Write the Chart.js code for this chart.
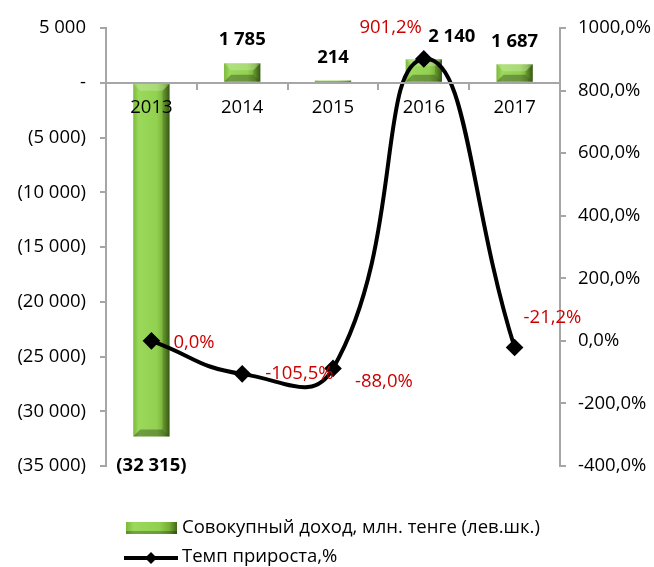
<!DOCTYPE html>
<html>
<head>
<meta charset="utf-8">
<script src="https://cdn.jsdelivr.net/npm/chart.js@4.4.1/dist/chart.umd.min.js"></script>
<style>
  html, body { margin: 0; padding: 0; background: #fff; }
  #wrap { width: 654px; height: 567px; }
</style>
</head>
<body>
<div id="wrap"><canvas id="chart" width="654" height="567"></canvas></div>
<script>
// data
const years = ['2013', '2014', '2015', '2016', '2017'];
const income = [-32315, 1785, 214, 2140, 1687];
const growth = [0.0, -105.5, -88.0, 901.2, -21.2];
const incomeLabel = 'Совокупный доход, млн. тенге (лев.шк.)';
const growthLabel = 'Темп прироста,%';

// label placement (style only)
const barLabelShift = [0, 0, 0, 28, 0];
const lineLabelOffsets = [[22, 2, 'left'], [23, 0, 'left'], [22, 13, 'left'], [-2, -31, 'right'], [9, -30, 'left']];

const FONT = '"Open Sans", Lato, sans-serif';
const FS = 18.5;
const axisGrey = '#A6A6A6';
const labelRed = '#CC0000';

function fmtIncome(v) {
  if (v === 0) return '-';
  const s = String(Math.abs(v)).replace(/\B(?=(\d{3})+(?!\d))/g, ' ');
  return v < 0 ? '(' + s + ')' : s;
}

function fmtPct(v) {
  return v.toFixed(1).replace('.', ',') + '%';
}

function greenGradient(ctx, x0, x1) {
  const g = ctx.createLinearGradient(x0, 0, x1, 0);
  g.addColorStop(0, '#7DB83C');
  g.addColorStop(0.15, '#9AD95A');
  g.addColorStop(0.65, '#92D050');
  g.addColorStop(0.85, '#76AE36');
  g.addColorStop(1, '#3F6B16');
  return g;
}

function barFill(context) {
  const chart = context.chart;
  const area = chart.chartArea;
  if (!area || context.dataIndex === undefined) return '#92D050';
  const x = chart.scales.x.getPixelForValue(context.dataIndex);
  const half = (area.right - area.left) / years.length * 0.4 / 2;
  return greenGradient(chart.ctx, x - half, x + half);
}

// bevel look on the bars
const barBevel = {
  id: 'barBevel',
  afterDatasetDraw(chart, args) {
    if (args.index !== 0) return;
    const ctx = chart.ctx;
    ctx.save();
    args.meta.data.forEach(bar => {
      const p = bar.getProps(['x', 'y', 'base', 'width'], true);
      const l = p.x - p.width / 2, r = p.x + p.width / 2;
      const t = Math.min(p.y, p.base), b = Math.max(p.y, p.base);
      const bv = Math.min(7, (b - t) / 2, p.width / 2);
      const poly = (pts, color) => {
        ctx.beginPath();
        ctx.moveTo(pts[0][0], pts[0][1]);
        pts.slice(1).forEach(q => ctx.lineTo(q[0], q[1]));
        ctx.closePath();
        ctx.fillStyle = color;
        ctx.fill();
      };
      poly([[l, t], [r, t], [r - bv, t + bv], [l + bv, t + bv]], 'rgba(255,255,255,0.22)');
      poly([[l, b], [r, b], [r - bv, b - bv], [l + bv, b - bv]], 'rgba(0,0,0,0.28)');
      poly([[r, t], [r, b], [r - bv, b - bv], [r - bv, t + bv]], 'rgba(0,0,0,0.18)');
    });
    ctx.restore();
  }
};

const valueLabels = {
  id: 'valueLabels',
  afterDatasetsDraw(chart) {
    const ctx = chart.ctx;
    ctx.save();
    ctx.textBaseline = 'middle';
    chart.getDatasetMeta(0).data.forEach((bar, i) => {
      const v = income[i];
      ctx.font = 'bold ' + FS + 'px ' + FONT;
      ctx.fillStyle = '#000';
      ctx.textAlign = 'center';
      const y = v >= 0 ? bar.y - 23 : bar.y + 29;
      ctx.fillText(fmtIncome(v), bar.x + barLabelShift[i], y);
    });
    chart.getDatasetMeta(1).data.forEach((pt, i) => {
      const o = lineLabelOffsets[i];
      ctx.font = FS + 'px ' + FONT;
      ctx.fillStyle = labelRed;
      ctx.textAlign = o[2];
      ctx.fillText(fmtPct(growth[i]), pt.x + o[0], pt.y + o[1]);
    });
    ctx.restore();
  }
};

const bottomLegend = {
  id: 'bottomLegend',
  afterDraw(chart) {
    const ctx = chart.ctx;
    ctx.save();
    ctx.fillStyle = greenGradient(ctx, 126, 177);
    ctx.fillRect(126, 522, 51, 12);
    ctx.fillStyle = 'rgba(0,0,0,0.25)';
    ctx.fillRect(126, 531, 51, 3);
    ctx.strokeStyle = '#000';
    ctx.lineWidth = 4;
    ctx.beginPath();
    ctx.moveTo(124, 558);
    ctx.lineTo(178, 558);
    ctx.stroke();
    ctx.fillStyle = '#000';
    ctx.beginPath();
    ctx.moveTo(151, 552);
    ctx.lineTo(157, 558);
    ctx.lineTo(151, 564);
    ctx.lineTo(145, 558);
    ctx.closePath();
    ctx.fill();
    ctx.font = FS + 'px ' + FONT;
    ctx.textAlign = 'left';
    ctx.textBaseline = 'middle';
    ctx.fillText(incomeLabel, 182, 528);
    ctx.fillText(growthLabel, 182, 557);
    ctx.restore();
  }
};

const tickFont = { family: FONT, size: FS };

new Chart(document.getElementById('chart'), {
  data: {
    labels: years,
    datasets: [
      {
        type: 'bar',
        label: incomeLabel,
        data: income,
        yAxisID: 'y',
        backgroundColor: barFill,
        borderWidth: 0,
        categoryPercentage: 1,
        barPercentage: 0.4,
        order: 1
      },
      {
        type: 'line',
        label: growthLabel,
        data: growth,
        yAxisID: 'y1',
        borderColor: '#000',
        borderWidth: 4,
        tension: 0.5,
        pointStyle: 'rectRot',
        pointRadius: 6,
        pointBackgroundColor: '#000',
        pointBorderColor: '#000',
        order: 0
      }
    ]
  },
  options: {
    responsive: false,
    animation: false,
    layout: { padding: { top: 28, bottom: 101, left: 0, right: 0 } },
    plugins: {
      legend: { display: false },
      tooltip: { enabled: false }
    },
    scales: {
      x: {
        position: { y: 0 },
        grid: { offset: true, drawOnChartArea: false, drawTicks: true, tickLength: 6, color: axisGrey, lineWidth: 2, z: 1 },
        border: { color: axisGrey, width: 2, z: 1 },
        ticks: { font: tickFont, color: '#000', padding: 8, z: 1 }
      },
      y: {
        position: 'left',
        min: -35000,
        max: 5000,
        grid: { drawOnChartArea: false, drawTicks: true, tickLength: 6, color: axisGrey, lineWidth: 2 },
        border: { color: axisGrey, width: 2 },
        ticks: { stepSize: 5000, font: tickFont, color: '#000', padding: 14, callback: v => fmtIncome(v) },
        afterFit: s => { s.width = 106; }
      },
      y1: {
        position: 'right',
        min: -400,
        max: 1000,
        grid: { drawOnChartArea: false, drawTicks: true, tickLength: 6, color: axisGrey, lineWidth: 2 },
        border: { color: axisGrey, width: 2 },
        ticks: { stepSize: 200, font: tickFont, color: '#000', padding: 12, callback: v => fmtPct(v) },
        afterFit: s => { s.width = 94; }
      }
    }
  },
  plugins: [barBevel, valueLabels, bottomLegend]
});
</script>
</body>
</html>
